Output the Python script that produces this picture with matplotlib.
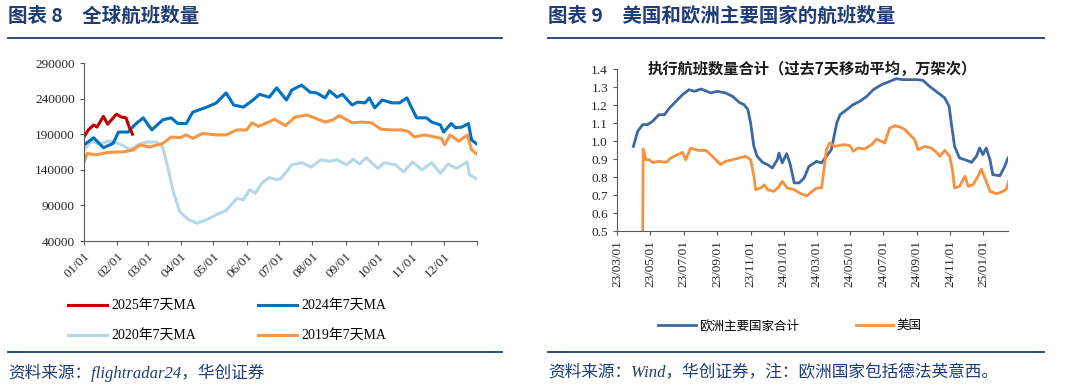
import numpy as np
import pandas as pd
import matplotlib
matplotlib.use("Agg")
import matplotlib.pyplot as plt
import matplotlib.dates as mdates
from matplotlib.lines import Line2D

plt.rcParams['font.family'] = ['Liberation Serif', 'Noto Sans CJK SC']
plt.rcParams['axes.unicode_minus'] = False

# ---------- left chart: global flights (day of year, 7-day MA) ----------
day_2024 = [0, 9, 18, 27, 32, 41, 47, 55, 63, 73, 81, 87, 95, 101, 114, 123, 132, 139, 148, 157,
            163, 172, 179, 188, 193, 202, 210, 216, 224, 228, 235, 240, 249, 254, 261, 265, 270,
            277, 286, 293, 300, 303, 309, 318, 323, 331, 334, 341, 345, 351, 357, 360, 365]
val_2024 = [175000, 185000, 171000, 177000, 193000, 193000, 203000, 213000, 196000, 210000,
            213000, 205000, 205000, 221000, 228000, 234000, 248000, 231000, 228000, 238000,
            246000, 242000, 255000, 238000, 252000, 259000, 249000, 248000, 241000, 251000,
            242000, 246000, 231000, 235000, 234000, 241000, 227000, 238000, 234000, 234000,
            241000, 231000, 213000, 213000, 207000, 203000, 193000, 205000, 199000, 200000,
            205000, 182000, 176000]

day_2025 = [0, 4, 9, 12, 18, 22, 30, 35, 39, 42, 45]
val_2025 = [186000, 196000, 203000, 200000, 215000, 204000, 218000, 214000, 213000, 200000, 190000]

day_2019 = [0, 3, 11, 21, 30, 36, 46, 52, 61, 73, 81, 89, 95, 101, 110, 123, 132, 142, 151, 156,
            162, 170, 177, 187, 196, 207, 214, 224, 231, 237, 249, 258, 267, 276, 286, 295, 301,
            307, 316, 326, 332, 335, 340, 348, 356, 360, 365]
val_2019 = [151000, 163000, 161000, 164000, 165000, 165000, 168000, 175000, 172000, 177000,
            186000, 185000, 189000, 184000, 191000, 189000, 189000, 196000, 196000, 206000,
            201000, 206000, 211000, 202000, 214000, 217000, 213000, 207000, 210000, 216000,
            206000, 207000, 206000, 197000, 196000, 196000, 194000, 186000, 189000, 186000,
            184000, 175000, 189000, 180000, 189000, 168000, 162000]

day_2020 = [0, 7, 15, 22, 29, 35, 43, 50, 58, 67, 73, 78, 83, 89, 97, 105, 114, 123, 132, 142,
            148, 154, 159, 165, 172, 180, 183, 193, 202, 211, 220, 228, 235, 244, 250, 256, 262,
            273, 279, 289, 297, 305, 314, 323, 331, 338, 346, 356, 358, 365]
val_2020 = [168000, 180000, 176000, 180000, 179000, 175000, 168000, 175000, 179000, 179000,
            172000, 142000, 109000, 81000, 70000, 65000, 70000, 77000, 83000, 100000,
            98000, 112000, 107000, 121000, 129000, 126000, 128000, 147000, 150000, 144000,
            154000, 152000, 154000, 147000, 155000, 148000, 157000, 142000, 150000, 147000,
            137000, 151000, 140000, 150000, 135000, 148000, 142000, 151000, 133000, 127000]

month_starts = [0, 31, 59, 90, 120, 151, 181, 212, 243, 273, 304, 334]
month_labels = ['01/01', '02/01', '03/01', '04/01', '05/01', '06/01',
                '07/01', '08/01', '09/01', '10/01', '11/01', '12/01']

# ---------- right chart: Europe vs US (days since 2023-03-01, 10k flights) ----------
eu_day = [30, 38, 47, 56, 65, 77, 87, 96, 108, 120, 132, 142, 154, 172, 184, 199, 212, 224, 233,
          240, 245, 251, 257, 267, 276, 285, 294, 297, 303, 311, 317, 325, 334, 343, 352, 366,
          375, 384, 393, 403, 409, 421, 433, 445, 458, 470, 485, 500, 512, 524, 537, 549, 561,
          573, 589, 601, 609, 613, 619, 628, 641, 650, 659, 665, 671, 677, 684, 689, 702, 711, 717]
eu_val = [0.970, 1.054, 1.091, 1.091, 1.109, 1.146, 1.146, 1.183, 1.220, 1.257, 1.285, 1.276,
          1.289, 1.267, 1.276, 1.267, 1.248, 1.215, 1.202, 1.174, 1.100, 0.970, 0.915, 0.881,
          0.869, 0.850, 0.896, 0.933, 0.878, 0.930, 0.878, 0.767, 0.767, 0.794, 0.859, 0.887,
          0.878, 0.915, 0.952, 1.100, 1.146, 1.174, 1.202, 1.220, 1.248, 1.285, 1.313, 1.331,
          1.346, 1.341, 1.341, 1.341, 1.337, 1.304, 1.267, 1.239, 1.193, 1.100, 0.970, 0.906,
          0.893, 0.881, 0.915, 0.961, 0.924, 0.961, 0.896, 0.813, 0.807, 0.859, 0.906]

us_day = [47, 48, 53, 59, 65, 77, 90, 99, 111, 120, 126, 135, 148, 163, 172, 181, 190, 199, 212,
          224, 236, 245, 251, 254, 264, 270, 276, 288, 297, 303, 312, 325, 337, 349, 354, 366,
          375, 378, 384, 390, 400, 415, 427, 433, 442, 454, 467, 476, 485, 491, 500, 510, 519,
          528, 537, 546, 552, 564, 576, 586, 592, 601, 610, 615, 619, 628, 638, 644, 653, 662,
          668, 677, 684, 696, 708, 714, 718]
us_val = [0.40, 0.956, 0.896, 0.896, 0.881, 0.887, 0.881, 0.906, 0.924, 0.937, 0.896, 0.961,
          0.948, 0.948, 0.924, 0.896, 0.869, 0.887, 0.896, 0.906, 0.915, 0.896, 0.804, 0.730,
          0.739, 0.757, 0.730, 0.720, 0.748, 0.776, 0.739, 0.730, 0.707, 0.696, 0.711, 0.739,
          0.739, 0.804, 0.952, 0.989, 0.970, 0.980, 0.974, 0.943, 0.961, 0.956, 0.980, 1.011,
          0.998, 0.989, 1.072, 1.085, 1.078, 1.063, 1.035, 1.007, 0.952, 0.970, 0.961, 0.937,
          0.915, 0.948, 0.915, 0.841, 0.739, 0.748, 0.804, 0.748, 0.757, 0.804, 0.844, 0.776,
          0.720, 0.707, 0.720, 0.733, 0.776]

start = pd.Timestamp('2023-03-01')
eu_dates = start + pd.to_timedelta(eu_day, unit='D')
us_dates = start + pd.to_timedelta(us_day, unit='D')

navy = '#1F3C74'
tick_color = '#262626'

fig = plt.figure(figsize=(10.8, 3.89), dpi=100)

# headers / rules / sources
fig.text(8 / 1080, 1 - 16 / 389, '图表 8　全球航班数量', fontsize=14, fontweight='bold',
         color=navy, va='center', family=['Noto Sans CJK SC'])
fig.text(548 / 1080, 1 - 16 / 389, '图表 9　美国和欧洲主要国家的航班数量', fontsize=14,
         fontweight='bold', color=navy, va='center', family=['Noto Sans CJK SC'])
for x0, x1 in [(8, 502), (548, 1044)]:
    for yy in [38, 352]:
        fig.add_artist(Line2D([x0 / 1080, x1 / 1080], [1 - yy / 389, 1 - yy / 389],
                              color=navy, lw=1.3))
fig.text(8 / 1080, 1 - 373 / 389, '资料来源：flightradar24，华创证券', fontsize=12,
         color=navy, va='center', style='italic')
fig.text(548 / 1080, 1 - 373 / 389, '资料来源：Wind，华创证券，注：欧洲国家包括德法英意西。',
         fontsize=12, color=navy, va='center', style='italic')

# ---------- left axes ----------
ax1 = fig.add_axes([84 / 1080, 1 - 241 / 389, 393 / 1080, 178 / 389])
ax1.plot(day_2020, val_2020, color='#B4D8E7', lw=2.2, label='2020年7天MA')
ax1.plot(day_2019, val_2019, color='#F79646', lw=2.2, label='2019年7天MA')
ax1.plot(day_2024, val_2024, color='#0070C0', lw=2.2, label='2024年7天MA')
ax1.plot(day_2025, val_2025, color='#C00000', lw=2.2, label='2025年7天MA')
ax1.set_xlim(0, 365)
ax1.set_ylim(40000, 290000)
ax1.set_yticks(np.arange(40000, 290001, 50000))
ax1.set_xticks(month_starts + [365])
ax1.set_xticklabels(month_labels + [''], rotation=45, ha='right', rotation_mode='anchor')
for s in ['top', 'right']:
    ax1.spines[s].set_visible(False)
for s in ['left', 'bottom']:
    ax1.spines[s].set_color('#595959')
ax1.tick_params(axis='both', colors='#595959', labelcolor=tick_color, labelsize=9.5,
                length=3, direction='out')

# legend fills column by column: [2025, 2020 | 2024, 2019]
h, l = ax1.get_legend_handles_labels()
order = [3, 0, 2, 1]
fig.legend([h[i] for i in order], [l[i] for i in order], loc='center',
           bbox_to_anchor=(227 / 1080, 1 - 321 / 389), ncol=2, frameon=False, fontsize=10,
           handlelength=2.8, columnspacing=4.5, labelspacing=1.2, handletextpad=0.3)

# ---------- right axes ----------
ax2 = fig.add_axes([617 / 1080, 1 - 231 / 389, 391 / 1080, 162 / 389])
ax2.plot(eu_dates, eu_val, color='#3C68A4', lw=2.0, label='欧洲主要国家合计')
ax2.plot(us_dates, us_val, color='#F7913D', lw=2.0, label='美国')
ax2.set_ylim(0.5, 1.4)
ax2.set_yticks(np.arange(0.5, 1.41, 0.1))
ax2.yaxis.set_major_formatter(plt.FormatStrFormatter('%.1f'))
ax2.set_xlim(pd.Timestamp('2023-03-01'), pd.Timestamp('2025-02-15'))
ax2.set_xticks(pd.date_range('2023-03-01', '2025-01-01', freq='2MS'))
ax2.xaxis.set_major_formatter(mdates.DateFormatter('%y/%m/%d'))
plt.setp(ax2.get_xticklabels(), rotation=90)
for s in ['top', 'right']:
    ax2.spines[s].set_visible(False)
for s in ['left', 'bottom']:
    ax2.spines[s].set_color('#595959')
ax2.tick_params(axis='both', colors='#595959', labelcolor=tick_color, labelsize=9.5,
                length=3, direction='out')
ax2.text(0.5, 1.0, '执行航班数量合计（过去7天移动平均，万架次）', transform=ax2.transAxes,
         ha='center', va='center', fontsize=11, fontweight='bold', color='#1a1a1a',
         family=['Noto Sans CJK SC'])

fig.legend(*ax2.get_legend_handles_labels(), loc='center',
           bbox_to_anchor=(790 / 1080, 1 - 326 / 389), ncol=2, frameon=False, fontsize=9,
           handlelength=3.0, columnspacing=4.5, handletextpad=0.3)

fig.savefig('out.png', dpi=100)
